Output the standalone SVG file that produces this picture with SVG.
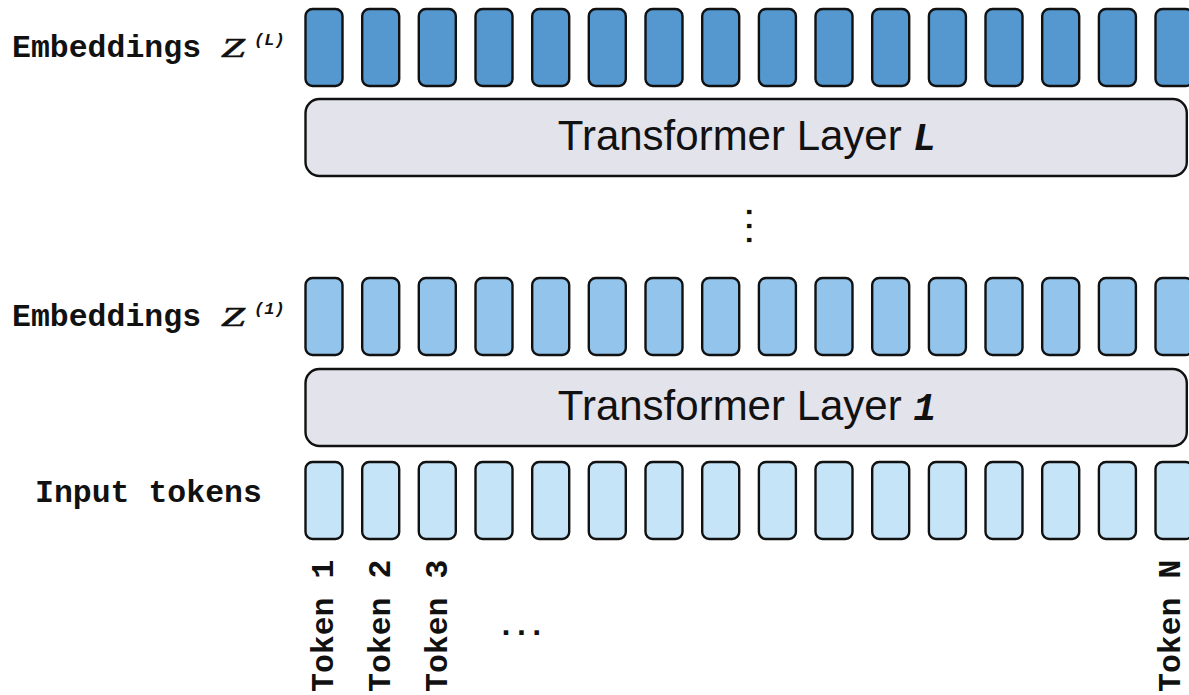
<svg xmlns="http://www.w3.org/2000/svg" width="1189" height="695" viewBox="0 0 1189 695">
<style>
.box{stroke:#111;stroke-width:2.4}
.top{fill:#5498CF}
.mid{fill:#93C4EC}
.bot{fill:#C6E4F8}
.layer{fill:#E3E3EC;stroke:#111;stroke-width:2.4}
.lbl{font-family:"Liberation Mono",monospace;font-weight:bold;font-size:31.5px;fill:#111}
.z{font-family:"Liberation Serif","DejaVu Serif",serif;font-style:italic;font-size:27px;fill:#111;stroke:#111;stroke-width:0.5}
.sup{font-family:"Liberation Mono",monospace;font-weight:bold;font-style:italic;font-size:17px;fill:#111}
.lt{font-family:"Liberation Sans",Arial,sans-serif;font-size:42px;fill:#111}
.lv{font-family:"Liberation Mono",monospace;font-weight:bold;font-style:italic;font-size:38px}
</style>
<defs>
<rect id="cell" width="37" height="77" rx="7" ry="7"/>
</defs>
<g id="labels">
<text class="lbl" x="12" y="57">Embeddings</text>
<text class="z" transform="translate(221,57) scale(1.6,1)">Z</text>
<text class="sup" x="254" y="45">(L)</text>
<text class="lbl" x="12" y="326">Embeddings</text>
<text class="z" transform="translate(221,326) scale(1.6,1)">Z</text>
<text class="sup" x="254" y="314">(1)</text>
<text class="lbl" x="35" y="502">Input tokens</text>
</g>
<g id="embeddings-L">
<use href="#cell" class="box top" x="305.5" y="9"/>
<use href="#cell" class="box top" x="362.2" y="9"/>
<use href="#cell" class="box top" x="418.8" y="9"/>
<use href="#cell" class="box top" x="475.5" y="9"/>
<use href="#cell" class="box top" x="532.2" y="9"/>
<use href="#cell" class="box top" x="588.8" y="9"/>
<use href="#cell" class="box top" x="645.5" y="9"/>
<use href="#cell" class="box top" x="702.2" y="9"/>
<use href="#cell" class="box top" x="758.9" y="9"/>
<use href="#cell" class="box top" x="815.5" y="9"/>
<use href="#cell" class="box top" x="872.2" y="9"/>
<use href="#cell" class="box top" x="928.9" y="9"/>
<use href="#cell" class="box top" x="985.5" y="9"/>
<use href="#cell" class="box top" x="1042.2" y="9"/>
<use href="#cell" class="box top" x="1098.9" y="9"/>
<use href="#cell" class="box top" x="1155.5" y="9"/>
</g>
<g id="layer-L">
<rect class="layer" x="305.5" y="99" width="881.3" height="77" rx="14" ry="14"/>
<text class="lt" x="747" y="150" text-anchor="middle">Transformer Layer <tspan class="lv">L</tspan></text>
</g>
<g id="vdots">
<text class="lbl" transform="translate(746.5,203) rotate(90)" style="font-size:30px;letter-spacing:-4px">...</text>
</g>
<g id="embeddings-1">
<use href="#cell" class="box mid" x="305.5" y="278"/>
<use href="#cell" class="box mid" x="362.2" y="278"/>
<use href="#cell" class="box mid" x="418.8" y="278"/>
<use href="#cell" class="box mid" x="475.5" y="278"/>
<use href="#cell" class="box mid" x="532.2" y="278"/>
<use href="#cell" class="box mid" x="588.8" y="278"/>
<use href="#cell" class="box mid" x="645.5" y="278"/>
<use href="#cell" class="box mid" x="702.2" y="278"/>
<use href="#cell" class="box mid" x="758.9" y="278"/>
<use href="#cell" class="box mid" x="815.5" y="278"/>
<use href="#cell" class="box mid" x="872.2" y="278"/>
<use href="#cell" class="box mid" x="928.9" y="278"/>
<use href="#cell" class="box mid" x="985.5" y="278"/>
<use href="#cell" class="box mid" x="1042.2" y="278"/>
<use href="#cell" class="box mid" x="1098.9" y="278"/>
<use href="#cell" class="box mid" x="1155.5" y="278"/>
</g>
<g id="layer-1">
<rect class="layer" x="305.5" y="369" width="881.3" height="77" rx="14" ry="14"/>
<text class="lt" x="747" y="420" text-anchor="middle">Transformer Layer <tspan class="lv">1</tspan></text>
</g>
<g id="input-tokens">
<use href="#cell" class="box bot" x="305.5" y="462"/>
<use href="#cell" class="box bot" x="362.2" y="462"/>
<use href="#cell" class="box bot" x="418.8" y="462"/>
<use href="#cell" class="box bot" x="475.5" y="462"/>
<use href="#cell" class="box bot" x="532.2" y="462"/>
<use href="#cell" class="box bot" x="588.8" y="462"/>
<use href="#cell" class="box bot" x="645.5" y="462"/>
<use href="#cell" class="box bot" x="702.2" y="462"/>
<use href="#cell" class="box bot" x="758.9" y="462"/>
<use href="#cell" class="box bot" x="815.5" y="462"/>
<use href="#cell" class="box bot" x="872.2" y="462"/>
<use href="#cell" class="box bot" x="928.9" y="462"/>
<use href="#cell" class="box bot" x="985.5" y="462"/>
<use href="#cell" class="box bot" x="1042.2" y="462"/>
<use href="#cell" class="box bot" x="1098.9" y="462"/>
<use href="#cell" class="box bot" x="1155.5" y="462"/>
</g>
<g id="token-labels">
<text class="lbl" transform="translate(333,692) rotate(-90)">Token 1</text>
<text class="lbl" transform="translate(390,692) rotate(-90)">Token 2</text>
<text class="lbl" transform="translate(446.5,692) rotate(-90)">Token 3</text>
<text class="lbl" transform="translate(1180,692) rotate(-90)">Token N</text>
<text class="lbl" x="496.5" y="635" style="letter-spacing:-3.5px">...</text>
</g>
<g id="connectors"></g>
</svg>
